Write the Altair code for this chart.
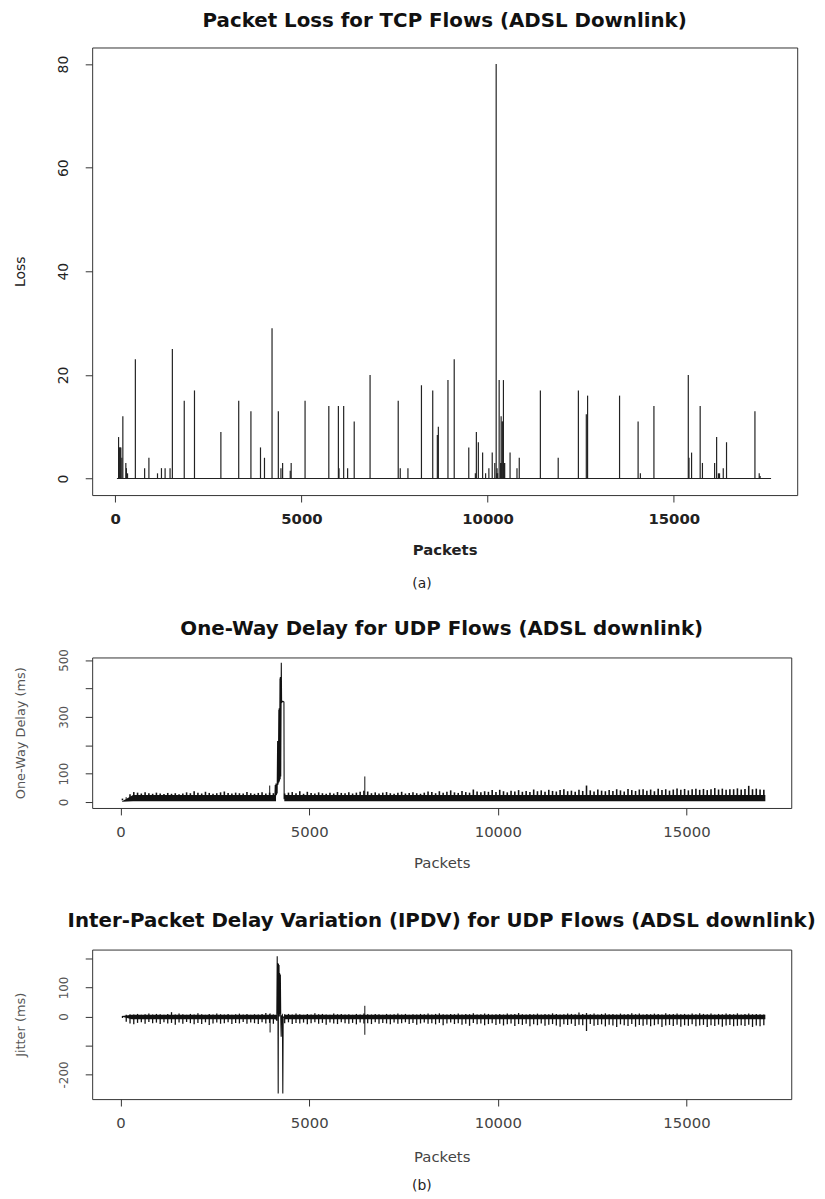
import altair as alt
import pandas as pd

FONT = "DejaVu Sans"
INK = "#111111"

# ---------------- (a) Packet loss for TCP flows ----------------
loss_packet = [89, 105, 120, 135, 150, 177, 204, 284, 300, 330, 540, 789, 904, 1135, 1241,
               1339, 1472, 1534, 1853, 2128, 2837, 3316, 3644, 3901, 4008, 4211, 4380, 4450,
               4495, 4700, 4725, 5098, 5736, 5993, 6010, 6135, 6241, 6418, 6844, 7600, 7655,
               7861, 8224, 8527, 8651, 8678, 8936, 9104, 9495, 9672, 9699, 9752, 9867, 9947,
               10035, 10125, 10194, 10231, 10245, 10255, 10270, 10311, 10350, 10364, 10378,
               10390, 10408, 10426, 10440, 10450, 10460, 10604, 10790, 10851, 11418, 11897,
               12439, 12652, 12686, 13545, 14043, 14104, 14468, 15391, 15410, 15479, 15710,
               15771, 16098, 16152, 16200, 16230, 16330, 16418, 17181, 17296, 17320]
loss_value = [8, 6, 6, 6, 6, 4, 12, 3, 2, 1, 23, 2, 4, 1, 2,
              2, 2, 25, 15, 17, 9, 15, 13, 6, 4, 29, 13, 2,
              3, 1.5, 3, 15, 14, 14, 2, 14, 2, 11, 20, 15, 2,
              2, 18, 17, 8.4, 10, 19, 23, 6, 1, 9, 7, 5, 1,
              2, 5, 3, 80, 1, 2, 1, 19, 3, 12, 3,
              11, 11, 19, 3, 3, 3, 5, 2, 4, 17, 4,
              17, 12.4, 16, 16, 11, 1, 14, 20, 4, 5, 14,
              3, 3, 8, 1, 1, 2, 7, 13, 1, 0.5]
loss_baseline = [45, 17614]

# ---------------- (b) one-way delay for UDP flows ----------------
bin_packet = list(range(50, 17100, 100))  # one hair per 100 packets
delay_hi = [6, 16, 27, 35, 33, 30, 34, 31, 29, 33,
            30, 28, 32, 29, 31, 27, 30, 34, 31, 38,
            33, 30, 36, 32, 29, 31, 34, 37, 32, 30,
            33, 31, 30, 35, 31, 29, 32, 34, 30, 33,
            31, None, None, 30, 33, 35, 31, 38, 29, 36,
            32, 30, 34, 31, 29, 33, 30, 35, 32, 31,
            34, 30, 33, 36, 40, 37, 31, 34, 30, 33,
            35, 31, 29, 33, 36, 30, 32, 34, 31, 29,
            33, 37, 35, 31, 38, 33, 36, 41, 34, 32,
            39, 35, 33, 44, 37, 34, 38, 36, 42, 35,
            43, 38, 34, 40, 37, 42, 36, 39, 35, 44,
            38, 41, 36, 43, 39, 37, 42, 45, 38, 40,
            36, 43, 39, 58, 41, 37, 44, 40, 38, 42,
            39, 45, 41, 37, 46, 42, 39, 44, 45, 40,
            44, 38, 47, 42, 45, 40, 44, 48, 43, 46,
            41, 45, 47, 43, 46, 42, 45, 49, 44, 47,
            43, 45, 45, 48, 44, 46, 57, 45, 47, 44,
            43]
delay_band_seg = [1, 1, 1, 2, 2]
delay_band_packet = [40, 330, 4120, 4340, 17090]
delay_band_lo = [1, 3, 3, 3, 3]
delay_band_hi = [3, 25, 25, 25, 25]
delay_spike_packet = [3953, 6474]
delay_spike_value = [58, 90]
delay_burst_packet = [4090, 4100, 4110, 4120, 4130, 4140, 4150, 4163, 4168, 4175, 4180, 4195,
                      4200, 4205, 4212, 4226, 4230, 4235, 4245, 4260, 4268, 4300, 4330, 4336]
delay_burst_value = [15, 60, 20, 65, 25, 62, 30, 215, 60, 215, 65, 325,
                     70, 330, 75, 435, 80, 440, 90, 490, 350, 355, 352, 10]

# ---------------- (b) inter-packet delay variation ----------------
jit_lo = [-5, -18, -24, -27, -22, -20, -25, -19, -23, -21,
          -26, -20, -24, -22, -28, -21, -25, -19, -23, -27,
          -22, -26, -20, -29, -24, -21, -25, -23, -20, -26,
          -22, -24, -19, -25, -21, -23, -26, -20, -24, -22,
          -25, None, None, -23, -20, -26, -22, -24, -21, -27,
          -23, -20, -25, -22, -28, -21, -24, -26, -20, -23,
          -25, -22, -27, -21, -24, -23, -26, -20, -25, -22,
          -24, -27, -21, -25, -23, -20, -26, -22, -28, -24,
          -21, -25, -23, -27, -22, -30, -24, -21, -26, -23,
          -28, -25, -32, -22, -27, -24, -30, -26, -23, -29,
          -25, -31, -27, -24, -33, -26, -29, -25, -34, -27,
          -30, -24, -32, -28, -26, -31, -35, -27, -29, -25,
          -33, -28, -30, -50, -26, -32, -29, -27, -34, -28,
          -31, -36, -27, -30, -33, -26, -35, -29, -32, -28,
          -34, -30, -27, -36, -31, -29, -33, -28, -35, -30,
          -32, -27, -34, -31, -29, -36, -30, -33, -28, -35,
          -31, -29, -34, -32, -30, -33, -28, -36, -31, -34,
          -30]
jit_hi = [2, 6, 8, 7, 9, 6, 8, 10, 7, 9,
          8, 6, 9, 15, 7, 10, 8, 6, 9, 7,
          11, 8, 6, 9, 7, 10, 8, 7, 9, 6,
          8, 10, 7, 9, 6, 8, 7, 9, 12, 8,
          7, None, None, 8, 9, 7, 10, 8, 6, 9,
          7, 11, 8, 9, 7, 6, 10, 8, 9, 7,
          8, 6, 9, 7, 10, 8, 7, 9, 8, 6,
          9, 7, 8, 10, 7, 9, 6, 8, 7, 9,
          8, 10, 7, 9, 11, 8, 7, 9, 8, 10,
          7, 9, 8, 11, 7, 8, 10, 9, 7, 8,
          9, 7, 10, 8, 9, 12, 8, 7, 9, 8,
          10, 7, 9, 8, 11, 9, 7, 8, 10, 9,
          8, 14, 9, 12, 8, 10, 7, 9, 11, 8,
          9, 7, 10, 8, 9, 11, 8, 10, 7, 9,
          8, 10, 9, 7, 11, 8, 9, 10, 8, 9,
          7, 10, 8, 11, 9, 8, 10, 7, 9, 8,
          10, 9, 8, 11, 7, 9, 10, 8, 9, 8,
          7]
jit_band_seg = [1, 1, 1, 2, 2]
jit_band_packet = [40, 300, 4120, 4340, 17090]
jit_band_lo = [-1, -9, -9, -9, -9]
jit_band_hi = [2, 6, 6, 6, 6]
jit_spike_packet = [3963, 6474]
jit_spike_lo = [-55, -63]
jit_spike_hi = [11, 37]
jit_burst_packet = [4100, 4120, 4140, 4152, 4158, 4165, 4172, 4178, 4185, 4192, 4200,
                    4208, 4215, 4222, 4235, 4245, 4257, 4265, 4290, 4300, 4310, 4330]
jit_burst_value = [-10, 5, -15, 208, 10, 185, 0, -266, 182, 5, 178,
                   0, 150, 10, 145, 0, -70, 0, 5, -266, 0, -5]

# ---------------- shared styling ----------------
X_TICKS = [0, 5000, 10000, 15000]


def x_axis(bold, title_pad=16):
    w = "bold" if bold else "normal"
    col = "#222222" if bold else "#444444"
    return alt.Axis(values=X_TICKS, tickCount=40, format="d", title="Packets", grid=False,
                    domain=False, tickSize=7, tickColor="#333333", labelFlush=False,
                    labelOverlap=False, labelFont=FONT, labelFontSize=15, labelFontWeight=w,
                    labelColor=col, labelPadding=10, titleFont=FONT, titleFontSize=15,
                    titleFontWeight=w, titleColor=col, titlePadding=title_pad)


def y_axis(title, values, label_size, title_size, label_pad, title_pad, color, hide=None):
    kw = {}
    if hide:
        kw["labelExpr"] = (" || ".join(f"datum.value == {h}" for h in hide)
                           + " ? '' : '' + datum.value")
    return alt.Axis(values=values, tickCount=40, format="d", title=title, grid=False,
                    domain=False, tickSize=7, tickColor="#333333", labelAngle=-90,
                    labelAlign="center", labelBaseline="bottom", labelOverlap=False,
                    labelFont=FONT, labelFontSize=label_size, labelColor=color,
                    labelPadding=label_pad, titleFont=FONT, titleFontSize=title_size,
                    titleFontWeight="normal", titleColor=color, titlePadding=title_pad, **kw)


def title(text, offset):
    return alt.TitleParams(text=text, font=FONT, fontSize=20, fontWeight="bold",
                           color=INK, anchor="middle", frame="group", offset=offset)


# ---------------- panel (a) ----------------
W1, H1 = 712, 452
xs1 = alt.Scale(domain=[-620, 18316], nice=False, zero=False)
ys1 = alt.Scale(domain=[-3.2, 83.2], nice=False, zero=False)

loss_df = pd.DataFrame({"packet": loss_packet, "loss": loss_value, "zero": 0})
base_df = pd.DataFrame({"p0": [loss_baseline[0]], "p1": [loss_baseline[1]], "zero": [0]})

spikes = alt.Chart(loss_df).mark_rule(color="#222222", strokeWidth=1.2).encode(
    x=alt.X("packet:Q", scale=xs1, axis=x_axis(True)),
    y=alt.Y("zero:Q", scale=ys1, axis=y_axis("Loss", [0, 20, 40, 60, 80], 14, 14, 15, 29, "#222222")),
    y2="loss:Q")
baseline = alt.Chart(base_df).mark_rule(color="#222222", strokeWidth=1.2).encode(
    x="p0:Q", x2="p1:Q", y="zero:Q")
cap_a = alt.Chart(pd.DataFrame({"t": ["(a)"]})).mark_text(
    font=FONT, fontSize=14, color="#222222", baseline="middle", align="center").encode(
    text="t:N", x=alt.value(333), y=alt.value(H1 + 90))

panel_a = alt.layer(baseline, spikes, cap_a).properties(
    width=W1, height=H1, title=title("Packet Loss for TCP Flows (ADSL Downlink)", 17))

# ---------------- panel (b) delay ----------------
W2, H2, H3 = 706, 152, 151
xs2 = alt.Scale(domain=[-753, 17777], nice=False, zero=False)
ys2 = alt.Scale(domain=[-21, 509], nice=False, zero=False)

hair_df = pd.DataFrame({"packet": bin_packet, "hi": delay_hi}).dropna()
hair_df["lo"] = 12
band_df = pd.DataFrame({"seg": delay_band_seg, "packet": delay_band_packet,
                        "lo": delay_band_lo, "hi": delay_band_hi})
dspike_df = pd.DataFrame({"packet": delay_spike_packet, "hi": delay_spike_value, "lo": 10})
dburst_df = pd.DataFrame({"packet": delay_burst_packet, "v": delay_burst_value})

d_band = alt.Chart(band_df).mark_area(color=INK, opacity=1).encode(
    x=alt.X("packet:Q", scale=xs2, axis=x_axis(False)),
    y=alt.Y("lo:Q", scale=ys2,
            axis=y_axis("One-Way Delay (ms)", [0, 100, 200, 300, 400, 500], 12, 13, 15, 30,
                        "#555555", hide=[200, 400])),
    y2="hi:Q", detail="seg:N")
d_hair = alt.Chart(hair_df).mark_rule(color=INK, strokeWidth=1.6).encode(
    x="packet:Q", y="lo:Q", y2="hi:Q")
d_spike = alt.Chart(dspike_df).mark_rule(color=INK, strokeWidth=1).encode(
    x="packet:Q", y="lo:Q", y2="hi:Q")
d_burst = alt.Chart(dburst_df).mark_line(color=INK, strokeWidth=1.1).encode(
    x="packet:Q", y="v:Q", order="packet:Q")

panel_d = alt.layer(d_band, d_hair, d_spike, d_burst).properties(
    width=W2, height=H2, title=title("One-Way Delay for UDP Flows (ADSL downlink)", 10))

# ---------------- panel (b) jitter ----------------
ys3 = alt.Scale(domain=[-285, 231], nice=False, zero=False)
jhair_df = pd.DataFrame({"packet": bin_packet, "lo": jit_lo, "hi": jit_hi}).dropna()
jband_df = pd.DataFrame({"seg": jit_band_seg, "packet": jit_band_packet,
                         "lo": jit_band_lo, "hi": jit_band_hi})
jspike_df = pd.DataFrame({"packet": jit_spike_packet, "lo": jit_spike_lo, "hi": jit_spike_hi})
jburst_df = pd.DataFrame({"packet": jit_burst_packet, "v": jit_burst_value})

j_band = alt.Chart(jband_df).mark_area(color=INK, opacity=1).encode(
    x=alt.X("packet:Q", scale=xs2, axis=x_axis(False, 19)),
    y=alt.Y("lo:Q", scale=ys3,
            axis=y_axis("Jitter (ms)", [-200, -100, 0, 100, 200], 12, 13, 15, 30,
                        "#555555", hide=[200, -100])),
    y2="hi:Q", detail="seg:N")
j_hair = alt.Chart(jhair_df).mark_rule(color=INK, strokeWidth=1.3).encode(
    x="packet:Q", y="lo:Q", y2="hi:Q")
j_spike = alt.Chart(jspike_df).mark_rule(color=INK, strokeWidth=1).encode(
    x="packet:Q", y="lo:Q", y2="hi:Q")
j_burst = alt.Chart(jburst_df).mark_line(color=INK, strokeWidth=1.1).encode(
    x="packet:Q", y="v:Q", order="packet:Q")
cap_b = alt.Chart(pd.DataFrame({"t": ["(b)"]})).mark_text(
    font=FONT, fontSize=14, color="#222222", baseline="middle", align="center").encode(
    text="t:N", x=alt.value(333), y=alt.value(H3 + 88))

panel_j = alt.layer(j_band, j_hair, j_spike, j_burst, cap_b).properties(
    width=W2, height=H3,
    title=title("Inter-Packet Delay Variation (IPDV) for UDP Flows (ADSL downlink)", 19))

lower = alt.vconcat(panel_d, panel_j, spacing=39).resolve_scale(x="independent", y="independent")
chart = alt.vconcat(panel_a, lower, spacing=26).resolve_scale(
    x="independent", y="independent"
).properties(
    padding={"left": 5, "top": -4, "right": 0, "bottom": 0}
).configure_view(
    stroke="#333333", strokeWidth=1
)

chart.save("out.html", embed_options={"renderer": "svg", "actions": False})
